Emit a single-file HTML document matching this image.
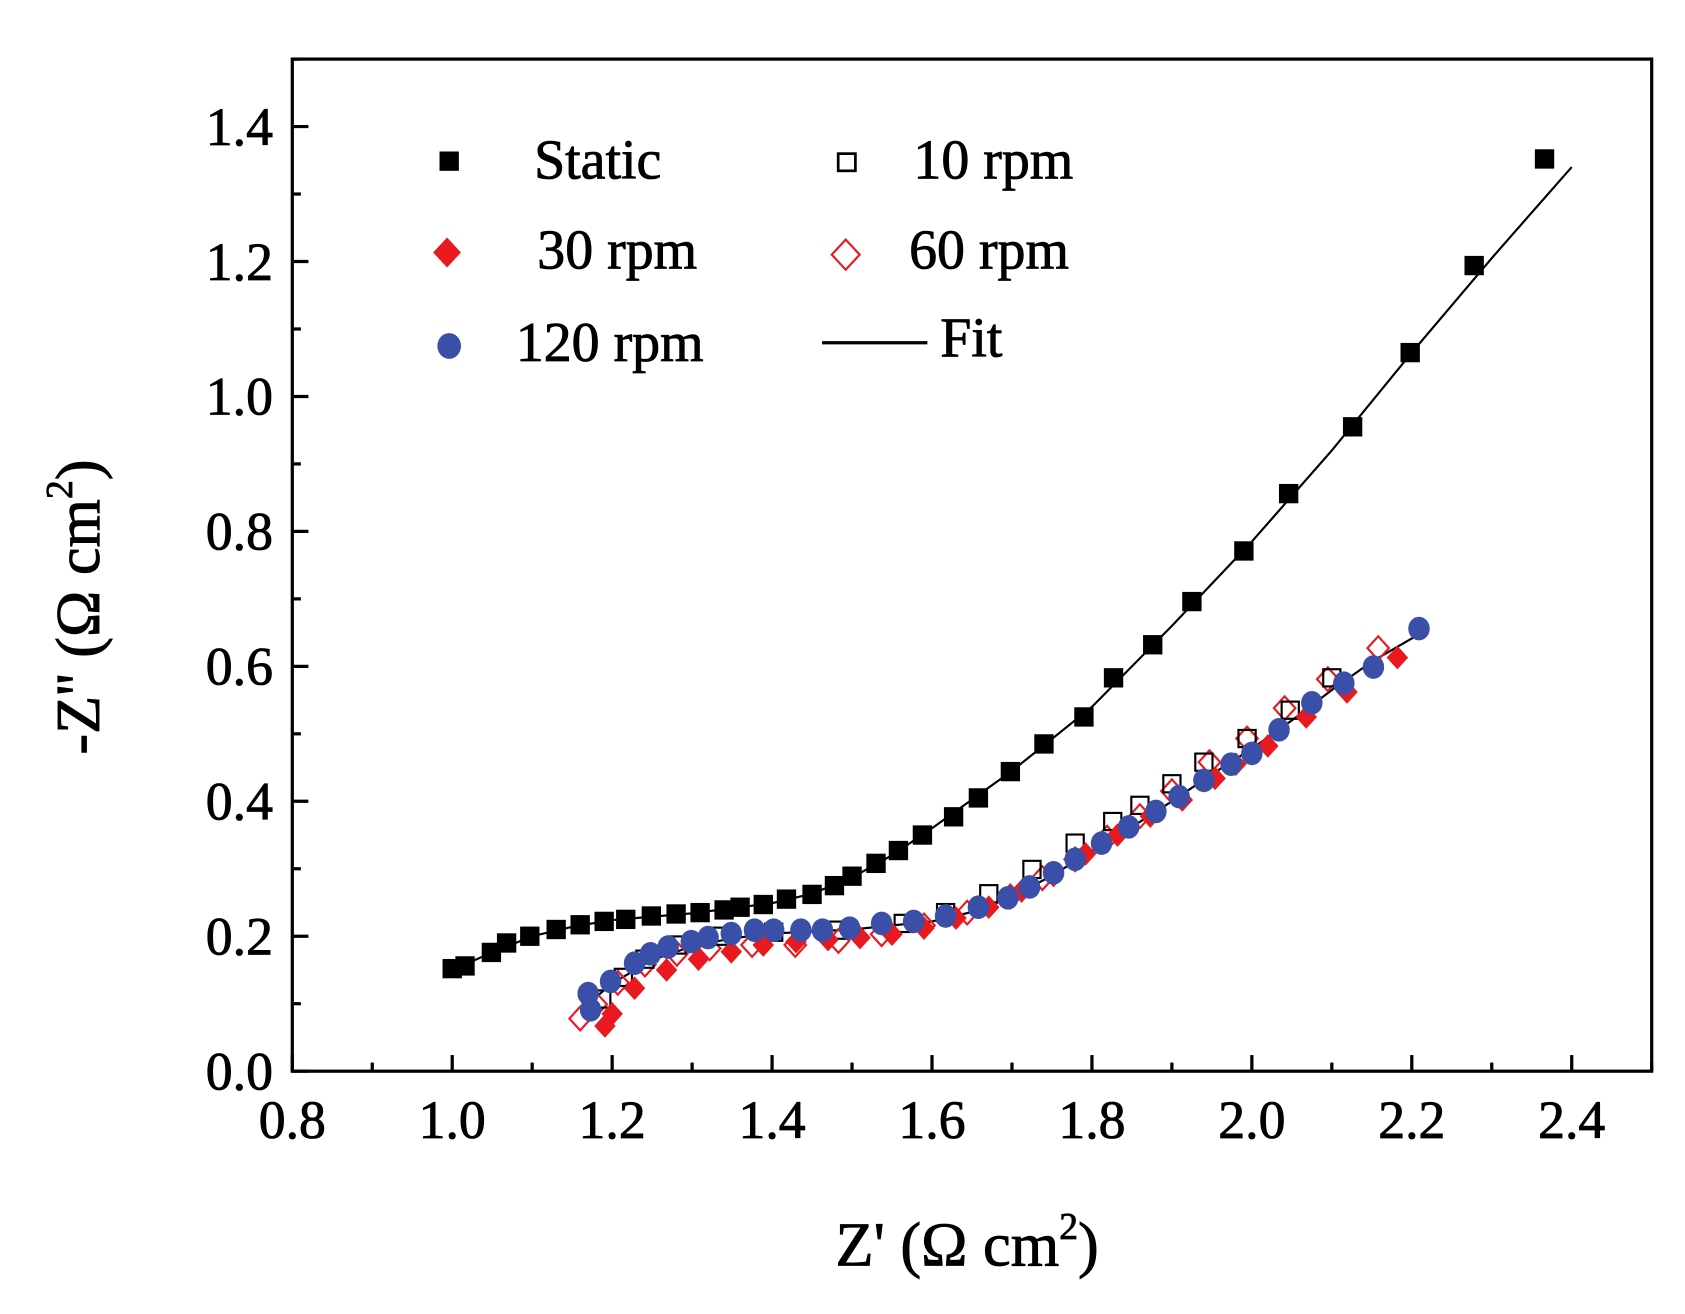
<!DOCTYPE html>
<html><head><meta charset="utf-8"><style>
html,body{margin:0;padding:0;background:#fff;}
svg{display:block;}
text{font-family:"Liberation Serif",serif;fill:#000;stroke:#000;stroke-width:0.8;}
</style></head><body>
<svg id="chart" width="1685" height="1314" viewBox="0 0 1568 1223" preserveAspectRatio="none" xmlns="http://www.w3.org/2000/svg">
<rect x="0" y="0" width="1568" height="1223" fill="#fff"/>
<g id="axes"></g>
<g id="fits"></g>
<g id="marks"></g>
<g id="legend">
  <rect x="409" y="141" width="18" height="18" fill="#000"/>
  <text x="497" y="166" font-size="52">Static</text>
  <rect x="780" y="143" width="16" height="16" fill="none" stroke="#000" stroke-width="2.5"/>
  <text x="850" y="166" font-size="52">10 rpm</text>
  <polygon points="416,221 429,235 416,249 403,235" fill="#e8191f"/>
  <text x="500" y="250" font-size="52">30 rpm</text>
  <polygon points="787,223 800,237 787,251 774,237" fill="none" stroke="#e8191f" stroke-width="2"/>
  <text x="846" y="250" font-size="52">60 rpm</text>
  <ellipse cx="418" cy="322" rx="11" ry="12" fill="#3a50a8"/>
  <text x="480" y="336" font-size="52">120 rpm</text>
  <line x1="765" y1="319" x2="863" y2="319" stroke="#000" stroke-width="3"/>
  <text x="875" y="332" font-size="52">Fit</text>
</g>
<text x="900" y="1178" font-size="58" text-anchor="middle">Z' (Ω cm<tspan font-size="35" dy="-25">2</tspan><tspan dy="25">)</tspan></text>
<text transform="translate(92,565) rotate(-90)" font-size="58" text-anchor="middle">-Z'' (Ω cm<tspan font-size="35" dy="-25">2</tspan><tspan dy="25">)</tspan></text>
</svg>
<script>
const xTicks = [0.8,1.0,1.2,1.4,1.6,1.8,2.0,2.2,2.4];
const yTicks = [0.0,0.2,0.4,0.6,0.8,1.0,1.2,1.4];
const xTickLabels = ["0.8","1.0","1.2","1.4","1.6","1.8","2.0","2.2","2.4"];
const yTickLabels = ["0.0","0.2","0.4","0.6","0.8","1.0","1.2","1.4"];
const staticX = [1.0,1.016,1.049,1.068,1.097,1.13,1.16,1.19,1.217,1.249,1.28,1.31,1.34,1.36,1.389,1.418,1.45,1.478,1.5,1.53,1.558,1.588,1.627,1.658,1.698,1.74,1.79,1.827,1.876,1.925,1.99,2.046,2.126,2.198,2.278,2.366];
const staticY = [0.152,0.156,0.176,0.19,0.2,0.21,0.217,0.222,0.225,0.23,0.233,0.235,0.239,0.243,0.247,0.255,0.262,0.275,0.289,0.308,0.327,0.35,0.377,0.405,0.444,0.485,0.525,0.583,0.632,0.696,0.771,0.856,0.955,1.065,1.194,1.352];
const rpm10X = [1.187,1.214,1.241,1.281,1.335,1.402,1.483,1.564,1.617,1.671,1.725,1.779,1.826,1.86,1.9,1.94,1.994,2.048,2.1];
const rpm10Y = [0.107,0.139,0.166,0.187,0.2,0.206,0.209,0.219,0.235,0.263,0.299,0.338,0.37,0.394,0.426,0.458,0.493,0.535,0.583];
const rpm30X = [1.191,1.2,1.228,1.268,1.308,1.349,1.389,1.43,1.47,1.51,1.55,1.59,1.63,1.671,1.712,1.752,1.792,1.832,1.873,1.913,1.954,1.98,2.02,2.068,2.119,2.182];
const rpm30Y = [0.067,0.085,0.123,0.15,0.166,0.177,0.187,0.192,0.195,0.198,0.203,0.212,0.227,0.243,0.267,0.29,0.322,0.35,0.378,0.402,0.434,0.455,0.482,0.525,0.562,0.613];
const rpm60X = [1.16,1.18,1.207,1.241,1.281,1.322,1.375,1.429,1.483,1.537,1.59,1.644,1.698,1.738,1.779,1.819,1.86,1.9,1.947,1.994,2.041,2.095,2.158];
const rpm60Y = [0.078,0.099,0.131,0.158,0.174,0.182,0.187,0.187,0.193,0.203,0.216,0.235,0.259,0.286,0.314,0.346,0.378,0.415,0.458,0.493,0.538,0.581,0.627];
const rpm120X = [1.17,1.173,1.198,1.228,1.248,1.27,1.299,1.32,1.349,1.378,1.402,1.436,1.463,1.497,1.537,1.577,1.617,1.658,1.695,1.722,1.752,1.779,1.812,1.846,1.88,1.909,1.94,1.974,2.0,2.034,2.075,2.115,2.152,2.209];
const rpm120Y = [0.115,0.091,0.133,0.16,0.174,0.184,0.192,0.198,0.204,0.209,0.209,0.209,0.209,0.212,0.219,0.222,0.23,0.243,0.257,0.273,0.294,0.314,0.338,0.362,0.385,0.407,0.431,0.455,0.471,0.506,0.546,0.575,0.599,0.656];
const fitStaticX = [1.0,1.05,1.1,1.15,1.2,1.3,1.4,1.45,1.5,1.55,1.6,1.7,1.8,1.9,2.0,2.1,2.2,2.3,2.4];
const fitStaticY = [0.15,0.176,0.2,0.214,0.224,0.234,0.249,0.263,0.287,0.32,0.36,0.445,0.54,0.66,0.785,0.92,1.065,1.205,1.34];
const fitRpmX = [1.17,1.2,1.25,1.3,1.35,1.4,1.5,1.6,1.65,1.7,1.75,1.8,1.85,1.9,1.95,2.0,2.05,2.1,2.15,2.22];
const fitRpmY = [0.1,0.13,0.165,0.185,0.197,0.204,0.21,0.222,0.236,0.258,0.29,0.326,0.362,0.4,0.44,0.478,0.52,0.565,0.607,0.655];

const L=272,R=1537,T=55,B=997;
const X0=0.8,X1=2.5,Y0=0,Y1=1.5;
function sx(v){return L+(v-X0)/(X1-X0)*(R-L);}
function sy(v){return B-(v-Y0)/(Y1-Y0)*(B-T);}
const NS="http://www.w3.org/2000/svg";
function mk(tag,attrs,parent){const e=document.createElementNS(NS,tag);for(const k in attrs)e.setAttribute(k,attrs[k]);parent.appendChild(e);return e;}
const axes=document.getElementById('axes');
let e=mk('rect',{x:L,y:T,width:R-L,height:B-T,fill:'none',stroke:'#000','stroke-width':3},axes);


xTicks.forEach((v,i)=>{
  let t=mk('line',{x1:sx(v),x2:sx(v),y1:B,y2:B-15,stroke:'#000','stroke-width':3},axes);
  
  
  let m=mk('line',{x1:sx(v+0.1),x2:sx(v+0.1),y1:B,y2:B-8,stroke:'#000','stroke-width':3},axes);
  
  
  let l=mk('text',{x:sx(v),y:B+62,'font-size':50,'text-anchor':'middle'},axes);
  l.textContent=xTickLabels[i];
  
  
});
yTicks.forEach((v,i)=>{
  let t=mk('line',{x1:L,x2:L+15,y1:sy(v),y2:sy(v),stroke:'#000','stroke-width':3},axes);
  
  
  let m=mk('line',{x1:L,x2:L+8,y1:sy(v+0.1),y2:sy(v+0.1),stroke:'#000','stroke-width':3},axes);
  
  
  let l=mk('text',{x:L-18,y:sy(v)+17,'font-size':50,'text-anchor':'end'},axes);
  l.textContent=yTickLabels[i];
  
  
});
const fits=document.getElementById('fits');
function fitLine(xs,ys,name){
  const p=mk('polyline',{points:xs.map((x,i)=>sx(x)+','+sy(ys[i])).join(' '),fill:'none',stroke:'#000','stroke-width':2},fits);
  
  
}
fitLine(fitStaticX,fitStaticY,'fit-line-static');
fitLine(fitRpmX,fitRpmY,'fit-line-rpm');
const marks=document.getElementById('marks');
function series(xs,ys,kind,name){
  xs.forEach((x,i)=>{
    const cx=sx(x),cy=sy(ys[i]);let m;
    if(kind==='sq') m=mk('rect',{x:cx-9,y:cy-9,width:18,height:18,fill:'#000'},marks);
    else if(kind==='osq') m=mk('rect',{x:cx-8,y:cy-8,width:16,height:16,fill:'none',stroke:'#000','stroke-width':2},marks);
    else if(kind==='dia') m=mk('polygon',{points:`${cx},${cy-11} ${cx+10},${cy} ${cx},${cy+11} ${cx-10},${cy}`,fill:'#e8191f'},marks);
    else if(kind==='odia') m=mk('polygon',{points:`${cx},${cy-11} ${cx+10},${cy} ${cx},${cy+11} ${cx-10},${cy}`,fill:'none',stroke:'#e8191f','stroke-width':2},marks);
    else m=mk('ellipse',{cx:cx,cy:cy,rx:10,ry:11,fill:'#3a50a8'},marks);
    
    
  });
}
series(rpm60X,rpm60Y,'odia','point-60rpm');
series(rpm10X,rpm10Y,'osq','point-10rpm');
series(rpm30X,rpm30Y,'dia','point-30rpm');
series(rpm120X,rpm120Y,'circ','point-120rpm');
series(staticX,staticY,'sq','point-static');
</script>
</body></html>
